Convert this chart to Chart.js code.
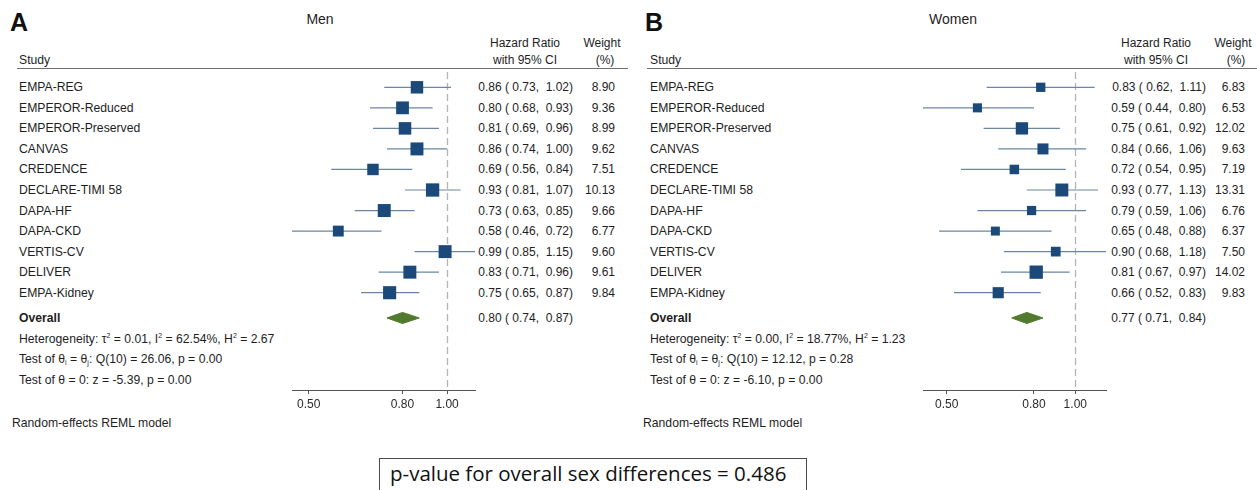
<!DOCTYPE html>
<html><head><meta charset="utf-8">
<script src="https://cdn.jsdelivr.net/npm/chart.js@4/dist/chart.umd.min.js"></script>
<style>
html,body{margin:0;padding:0;background:#fff;}
body{width:1257px;height:490px;overflow:hidden;position:relative;font-family:"Liberation Sans",Arial,sans-serif;color:#1e1e1e;}
.t{position:absolute;white-space:pre;font-size:12px;line-height:14px;}
.lab{font-size:12.2px;}
.r{text-align:right;}
.c{text-align:center;}
.letter{position:absolute;font-size:25px;font-weight:bold;line-height:28px;color:#111;}
.title{position:absolute;font-size:14px;line-height:16px;text-align:center;width:120px;}
.hline{position:absolute;height:0;border-top:1.5px solid #6e6e6e;}
sup{font-size:7px;vertical-align:5px;line-height:0;}
sub{font-size:7px;vertical-align:-2px;line-height:0;}
canvas{position:absolute;}
#box{position:absolute;left:379px;top:458px;width:426px;height:45px;border:1.5px solid #4a4a4a;}
#boxtext{position:absolute;left:390px;top:460px;font-family:"Open Sans","Noto Sans",sans-serif;font-size:20.5px;line-height:26px;white-space:pre;color:#111;}
</style></head><body>
<script>
// ---- data ----
const studies = ["EMPA-REG","EMPEROR-Reduced","EMPEROR-Preserved","CANVAS","CREDENCE","DECLARE-TIMI 58","DAPA-HF","DAPA-CKD","VERTIS-CV","DELIVER","EMPA-Kidney"];
const menHR     = [0.86,0.80,0.81,0.86,0.69,0.93,0.73,0.58,0.99,0.83,0.75];
const menLower  = [0.73,0.68,0.69,0.74,0.56,0.81,0.63,0.46,0.85,0.71,0.65];
const menUpper  = [1.02,0.93,0.96,1.00,0.84,1.07,0.85,0.72,1.15,0.96,0.87];
const menWeight = [8.90,9.36,8.99,9.62,7.51,10.13,9.66,6.77,9.60,9.61,9.84];
const menOverall = [0.80,0.74,0.87];
const womenHR     = [0.83,0.59,0.75,0.84,0.72,0.93,0.79,0.65,0.90,0.81,0.66];
const womenLower  = [0.62,0.44,0.61,0.66,0.54,0.77,0.59,0.48,0.68,0.67,0.52];
const womenUpper  = [1.11,0.80,0.92,1.06,0.95,1.13,1.06,0.88,1.18,0.97,0.83];
const womenWeight = [6.83,6.53,12.02,9.63,7.19,13.31,6.76,6.37,7.50,14.02,9.83];
const womenOverall = [0.77,0.71,0.84];
const axisTicks = [0.50,0.80,1.00];
const menStats = [
  "Heterogeneity: \u03c4<sup>2</sup> = 0.01, I<sup>2</sup> = 62.54%, H<sup>2</sup> = 2.67",
  "Test of \u03b8<sub>i</sub> = \u03b8<sub>j</sub>: Q(10) = 26.06, p = 0.00",
  "Test of \u03b8 = 0: z = -5.39, p = 0.00"];
const womenStats = [
  "Heterogeneity: \u03c4<sup>2</sup> = 0.00, I<sup>2</sup> = 18.77%, H<sup>2</sup> = 1.23",
  "Test of \u03b8<sub>i</sub> = \u03b8<sub>j</sub>: Q(10) = 12.12, p = 0.28",
  "Test of \u03b8 = 0: z = -6.10, p = 0.00"];
const modelNote = "Random-effects REML model";
const pValueNote = "p-value for overall sex differences = 0.486";

// ---- layout ----
const ROW0 = 87.3, ROWSTEP = 20.54, OVERALL_ROW = 11.23;
const panels = [
  {letter:"A", title:"Men", hr:menHR, lo:menLower, hi:menUpper, w:menWeight, overall:menOverall, stats:menStats,
   letterX:10, titleX:320, textX:19, hrRight:573, wRight:615, hdrHR:525, hdrW:602, lineL:17, lineR:628, noteX:12, canvasLeft:262},
  {letter:"B", title:"Women", hr:womenHR, lo:womenLower, hi:womenUpper, w:womenWeight, overall:womenOverall, stats:womenStats,
   letterX:645, titleX:953, textX:650, hrRight:1206, wRight:1245, hdrHR:1156, hdrW:1233, lineL:647, lineR:1257, noteX:643, canvasLeft:893}
];

function add(html, cls, style){
  const d=document.createElement('div'); d.className=cls; d.innerHTML=html;
  Object.assign(d.style, style); document.body.appendChild(d); return d;
}
const rowTop = r => (ROW0 + ROWSTEP*r - 7) + 'px';
const fmt = (a,b,c) => `${a.toFixed(2)} ( ${b.toFixed(2)},  ${c.toFixed(2)})`;

const refLine = {
  id:'refLine',
  beforeDatasetsDraw(chart){
    const {ctx, chartArea, scales} = chart;
    const x = Math.round(scales.x.getPixelForValue(1)) + 0.5;
    ctx.save(); ctx.strokeStyle='#b4b4b4'; ctx.lineWidth=1.3; ctx.setLineDash([7,4]);
    ctx.beginPath(); ctx.moveTo(x, chartArea.top); ctx.lineTo(x, chartArea.bottom); ctx.stroke(); ctx.restore();
  }
};

panels.forEach(p => {
  add(p.letter, 'letter', {left:p.letterX+'px', top:'8px'});
  add(p.title, 'title', {left:(p.titleX-60)+'px', top:'11px'});
  add('Study', 't lab', {left:p.textX+'px', top:'53px'});
  add('Hazard Ratio', 't c', {left:(p.hdrHR-50)+'px', width:'100px', top:'36px'});
  add('with 95% CI', 't c', {left:(p.hdrHR-50)+'px', width:'100px', top:'53px'});
  add('Weight', 't c', {left:(p.hdrW-30)+'px', width:'60px', top:'36px'});
  add('(%)', 't c', {left:(p.hdrW-27)+'px', width:'60px', top:'53px'});
  add('', 'hline', {left:p.lineL+'px', width:(p.lineR-p.lineL)+'px', top:'67.5px'});
  studies.forEach((s,i) => {
    add(s, 't lab', {left:p.textX+'px', top:rowTop(i)});
    add(fmt(p.hr[i],p.lo[i],p.hi[i]), 't r', {left:(p.hrRight-150)+'px', width:'150px', top:rowTop(i)});
    add(p.w[i].toFixed(2), 't r', {left:(p.wRight-60)+'px', width:'60px', top:rowTop(i)});
  });
  add('<b>Overall</b>', 't lab', {left:p.textX+'px', top:rowTop(OVERALL_ROW)});
  add(fmt(p.overall[0],p.overall[1],p.overall[2]), 't r', {left:(p.hrRight-150)+'px', width:'150px', top:rowTop(OVERALL_ROW)});
  p.stats.forEach((s,k) => add(s, 't lab', {left:p.textX+'px', top:rowTop(OVERALL_ROW+1+k)}));
  add(modelNote, 't', {left:p.noteX+'px', top:'416px', fontSize:'12.2px'});

  // chart
  const cv = document.createElement('canvas');
  cv.width = 243; cv.height = 360;
  cv.style.left = p.canvasLeft+'px'; cv.style.top = '60px';
  document.body.appendChild(cv);

  const maxW = Math.max(...p.w);
  const squares = p.hr.map((v,i)=>({x:v, y:i}));
  const radii = p.w.map(w => 13.3*Math.sqrt(w/maxW)/(2*Math.SQRT1_2));
  const ci = [];
  p.lo.forEach((lo,i)=>{ ci.push({x:lo,y:i}); ci.push({x:p.hi[i],y:i}); ci.push({x:p.hi[i],y:null}); });
  const [oe, ol, oh] = p.overall, dh = 0.27;
  const diamond = [{x:ol,y:OVERALL_ROW},{x:oe,y:OVERALL_ROW-dh},{x:oh,y:OVERALL_ROW},{x:oe,y:OVERALL_ROW+dh},{x:ol,y:OVERALL_ROW}];

  new Chart(cv, {
    data:{datasets:[
      {type:'scatter', data:squares, pointStyle:'rect', pointRadius:radii, pointHoverRadius:radii,
       backgroundColor:'#1b497a', borderWidth:0, clip:false},
      {type:'line', data:ci, borderColor:'#6b86a3', borderWidth:1.2, pointRadius:0, spanGaps:false, fill:false, clip:false},
      {type:'line', data:diamond, borderColor:'#507a2c', backgroundColor:'#507a2c', borderWidth:1, pointRadius:0, fill:'shape', clip:false}
    ]},
    options:{
      responsive:false, animation:false, devicePixelRatio:1, events:[],
      layout:{padding:{left:30,right:30,top:12,bottom:0}},
      plugins:{legend:{display:false}, tooltip:{enabled:false}},
      scales:{
        x:{type:'logarithmic', min:Math.min(...p.lo), max:Math.max(...p.hi),
           afterBuildTicks:s=>{ s.ticks = axisTicks.map(v=>({value:v})); },
           afterFit:s=>{ s.height = 30; },
           ticks:{callback:v=>Number(v).toFixed(2), autoSkip:false, maxRotation:0, padding:3,
                  color:'#2a2a2a', font:{family:'"Liberation Sans", Arial, sans-serif', size:12}},
           grid:{drawOnChartArea:false, drawTicks:true, tickLength:4, color:'#555', lineWidth:1},
           border:{display:true, color:'#555', width:1}},
        y:{type:'linear', reverse:true, min:-0.745, max:14.737, display:false}
      }
    },
    plugins:[refLine]
  });
});

add('', '', {}).id='box';
add(pValueNote, '', {}).id='boxtext';
</script>
</body></html>
